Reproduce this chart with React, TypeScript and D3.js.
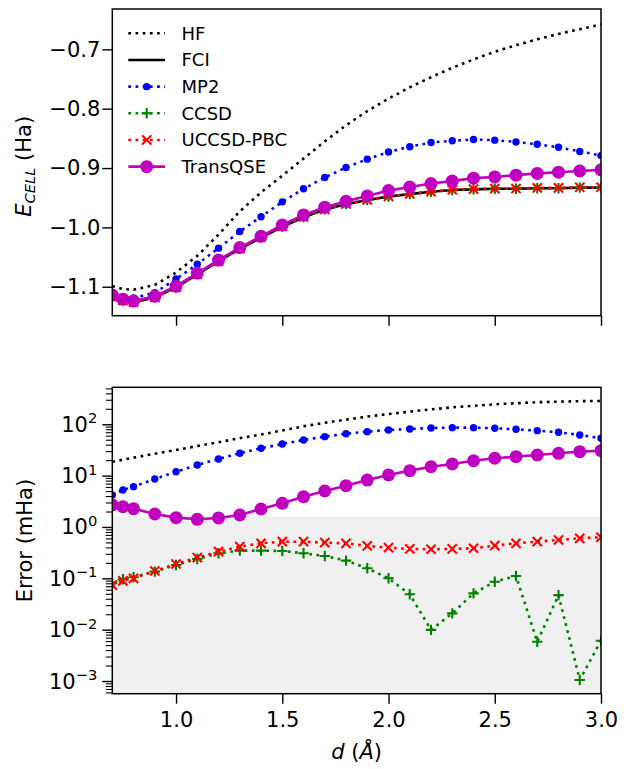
import * as d3 from "d3";
import * as React from "react";

// bond distances (Angstrom)
const dist = [0.7, 0.75, 0.8, 0.9, 1.0, 1.1, 1.2, 1.3, 1.4, 1.5, 1.6, 1.7, 1.8, 1.9, 2.0, 2.1, 2.2, 2.3, 2.4, 2.5, 2.6, 2.7, 2.8, 2.9, 3.0];

// top panel: cell energies (Ha)
const hfEnergy = [-1.099, -1.104, -1.105, -1.097, -1.076, -1.048, -1.012, -0.973, -0.941, -0.913, -0.884, -0.855, -0.828, -0.804, -0.783, -0.764, -0.747, -0.731, -0.717, -0.704, -0.693, -0.683, -0.674, -0.666, -0.658];
const fciEnergy = [-1.117, -1.123, -1.126, -1.118, -1.101, -1.079, -1.057, -1.036, -1.017, -0.999, -0.983, -0.97, -0.961, -0.954, -0.948, -0.944, -0.94, -0.937, -0.936, -0.935, -0.935, -0.934, -0.934, -0.933, -0.933];
const mp2Energy = [-1.113, -1.118, -1.119, -1.11, -1.087, -1.062, -1.035, -1.007, -0.982, -0.957, -0.935, -0.916, -0.899, -0.885, -0.873, -0.864, -0.857, -0.854, -0.852, -0.853, -0.856, -0.86, -0.865, -0.872, -0.879];
const ccsdEnergy = [-1.1169, -1.1229, -1.1259, -1.1179, -1.1008, -1.0788, -1.0567, -1.0357, -1.0167, -0.9987, -0.9827, -0.9697, -0.9608, -0.9538, -0.9479, -0.944, -0.94, -0.937, -0.936, -0.9349, -0.9349, -0.934, -0.934, -0.933, -0.933];
const uccsdEnergy = [-1.1169, -1.1229, -1.1259, -1.1179, -1.1008, -1.0787, -1.0567, -1.0356, -1.0165, -0.9985, -0.9825, -0.9695, -0.9605, -0.9536, -0.9476, -0.9436, -0.9396, -0.9366, -0.9356, -0.9346, -0.9345, -0.9335, -0.9334, -0.9324, -0.9324];
const transqseEnergy = [-1.114, -1.121, -1.124, -1.116, -1.099, -1.077, -1.055, -1.034, -1.015, -0.996, -0.979, -0.966, -0.956, -0.947, -0.938, -0.932, -0.926, -0.922, -0.917, -0.915, -0.912, -0.909, -0.907, -0.905, -0.903];

// bottom panel: errors vs FCI (mHa)
const hfError = [18.6, 20.4, 22.4, 26.6, 31.6, 37.6, 44.7, 53.7, 63.1, 75.9, 91.2, 107, 123, 141, 158, 176, 195, 214, 229, 245, 257, 269, 275, 282, 285];
const mp2Error = [4.2, 5.25, 6.1, 8.6, 11.9, 16.1, 21.1, 27.2, 34.1, 41.3, 49.5, 57.4, 65.5, 71.8, 77.4, 81, 84.5, 85.9, 85.9, 83.4, 79.8, 75.1, 69.8, 61.9, 53.3];
const ccsdError = [0.08, 0.096, 0.105, 0.135, 0.182, 0.238, 0.307, 0.346, 0.346, 0.341, 0.307, 0.272, 0.221, 0.157, 0.1, 0.049, 0.0099, 0.0208, 0.051, 0.086, 0.111, 0.0058, 0.047, 0.00105, 0.0061];
const uccsdError = [0.074, 0.089, 0.1, 0.139, 0.19, 0.252, 0.33, 0.413, 0.481, 0.517, 0.517, 0.495, 0.481, 0.427, 0.395, 0.373, 0.368, 0.373, 0.385, 0.432, 0.481, 0.517, 0.558, 0.602, 0.63];
const transqseError = [2.68, 2.48, 2.27, 1.79, 1.52, 1.41, 1.5, 1.71, 2.24, 2.89, 3.89, 5.02, 6.37, 8.2, 10.3, 12.5, 14.9, 16.9, 19.5, 21.8, 23.4, 25.2, 27.2, 29.3, 30.6];

const xTicks = [1.0, 1.5, 2.0, 2.5, 3.0];
const energyTicks = [-1.1, -1.0, -0.9, -0.8, -0.7];
const errorExponents = [-3, -2, -1, 0, 1, 2];
const chemicalAccuracy = 1.6; // mHa, shaded below

const width = 630;
const height = 769;
const font = "DejaVu Sans, sans-serif";
const fs = 21; // ticks and axis labels
const legendFs = 18;
const lw = 2.6;
const dotted = "2.7 4.5";

type Style = { color: string; dash: string | null; marker: string | null };
const styles: Record<string, Style> = {
  HF: { color: "#000000", dash: dotted, marker: null },
  FCI: { color: "#000000", dash: null, marker: null },
  MP2: { color: "#0000ff", dash: dotted, marker: "o" },
  CCSD: { color: "#008000", dash: dotted, marker: "+" },
  "UCCSD-PBC": { color: "#ff0000", dash: dotted, marker: "x" },
  TransQSE: { color: "#bf00bf", dash: null, marker: "O" },
};

function drawMarkers(g, kind, pts, color) {
  if (kind === "o" || kind === "O") {
    g.selectAll(null)
      .data(pts)
      .join("circle")
      .attr("cx", (d) => d[0])
      .attr("cy", (d) => d[1])
      .attr("r", kind === "o" ? 3.7 : 6.5)
      .attr("fill", color);
  } else if (kind === "+") {
    g.selectAll(null)
      .data(pts)
      .join("path")
      .attr("d", (d) => `M${d[0] - 5.2},${d[1]}H${d[0] + 5.2}M${d[0]},${d[1] - 5.2}V${d[1] + 5.2}`)
      .attr("stroke", color)
      .attr("stroke-width", 2.1)
      .attr("fill", "none");
  } else if (kind === "x") {
    g.selectAll(null)
      .data(pts)
      .join("path")
      .attr("d", (d) => `M${d[0] - 4.6},${d[1] - 4.6}L${d[0] + 4.6},${d[1] + 4.6}M${d[0] - 4.6},${d[1] + 4.6}L${d[0] + 4.6},${d[1] - 4.6}`)
      .attr("stroke", color)
      .attr("stroke-width", 2.1)
      .attr("fill", "none");
  }
}

function drawSeries(g, xs, ys, x, y, st: Style) {
  const pts = xs.map((d, i) => [x(d), y(ys[i])]);
  const line = d3.line();
  g.append("path")
    .attr("d", line(pts))
    .attr("fill", "none")
    .attr("stroke", st.color)
    .attr("stroke-width", lw)
    .attr("stroke-dasharray", st.dash)
    .attr("stroke-linejoin", "round");
  if (st.marker) drawMarkers(g.append("g"), st.marker, pts, st.color);
}

class App extends React.Component {
  myRef: any;
  constructor(props) {
    super(props);
    this.myRef = React.createRef();
  }

  componentDidMount() {
    const left = 112.3;
    const right = 601;
    const top1 = 9;
    const bottom1 = 315.7;
    const top2 = 387.3;
    const bottom2 = 693.7;

    const x = d3.scaleLinear().domain([0.7, 3.0]).range([left, right]);
    const yE = d3.scaleLinear().domain([-1.1488, -0.632]).range([bottom1, top1]);
    const yErr = d3.scaleLog().domain([Math.pow(10, -3.247), Math.pow(10, 2.72)]).range([bottom2, top2]);

    const svg = d3.select(this.myRef.current).attr("viewBox", [0, 0, width, height]);
    svg.selectAll("*").remove();
    svg.append("rect").attr("width", width).attr("height", height).attr("fill", "#ffffff");

    const defs = svg.append("defs");
    defs.append("clipPath").attr("id", "clip-top").append("rect")
      .attr("x", left).attr("y", top1).attr("width", right - left).attr("height", bottom1 - top1);
    defs.append("clipPath").attr("id", "clip-bot").append("rect")
      .attr("x", left).attr("y", top2).attr("width", right - left).attr("height", bottom2 - top2);

    // ---- top panel ----
    const gTop = svg.append("g").attr("clip-path", "url(#clip-top)");
    const topSeries: [string, number[]][] = [
      ["HF", hfEnergy],
      ["FCI", fciEnergy],
      ["MP2", mp2Energy],
      ["CCSD", ccsdEnergy],
      ["UCCSD-PBC", uccsdEnergy],
      ["TransQSE", transqseEnergy],
    ];
    topSeries.forEach(([name, vals]) => drawSeries(gTop, dist, vals, x, yE, styles[name]));

    // ---- bottom panel ----
    const gBot = svg.append("g").attr("clip-path", "url(#clip-bot)");
    gBot.append("rect")
      .attr("x", left)
      .attr("width", right - left)
      .attr("y", yErr(chemicalAccuracy))
      .attr("height", bottom2 - yErr(chemicalAccuracy))
      .attr("fill", "#f0f0f0");
    const botSeries: [string, number[]][] = [
      ["HF", hfError],
      ["MP2", mp2Error],
      ["CCSD", ccsdError],
      ["UCCSD-PBC", uccsdError],
      ["TransQSE", transqseError],
    ];
    botSeries.forEach(([name, vals]) => drawSeries(gBot, dist, vals, x, yErr, styles[name]));

    // ---- axes ----
    const styleAxis = (g) => {
      g.attr("font-size", null).attr("font-family", null);
      g.select(".domain").remove();
      g.selectAll(".tick line").attr("stroke", "#000").attr("stroke-width", 1.4);
      g.selectAll(".tick text").attr("fill", "#000").attr("font-family", font).attr("font-size", fs);
    };

    svg.append("g")
      .attr("transform", `translate(${left},0)`)
      .call(d3.axisLeft(yE).tickValues(energyTicks).tickSize(10).tickPadding(2).tickFormat(d3.format(".1f")))
      .call(styleAxis);

    svg.append("g")
      .attr("transform", `translate(0,${bottom1})`)
      .call(d3.axisBottom(x).tickValues(xTicks).tickSize(10).tickFormat(() => ""))
      .call(styleAxis);

    svg.append("g")
      .attr("transform", `translate(0,${bottom2})`)
      .call(d3.axisBottom(x).tickValues(xTicks).tickSize(10).tickPadding(8).tickFormat(d3.format(".1f")))
      .call(styleAxis);

    // log axis: major and minor ticks
    const [lo, hi] = yErr.domain();
    const minor: number[] = [];
    for (let k = -4; k <= 2; k++) {
      for (let m = 2; m <= 9; m++) {
        const v = m * Math.pow(10, k);
        if (v >= lo && v <= hi) minor.push(v);
      }
    }
    svg.append("g")
      .attr("transform", `translate(${left},0)`)
      .call(d3.axisLeft(yErr).tickValues(minor).tickSize(6.5).tickFormat(() => ""))
      .call(styleAxis)
      .selectAll(".tick line").attr("stroke-width", 1.1);

    const gMajor = svg.append("g")
      .attr("transform", `translate(${left},0)`)
      .call(d3.axisLeft(yErr).tickValues(errorExponents.map((e) => Math.pow(10, e))).tickSize(10).tickFormat(() => ""))
      .call(styleAxis);
    gMajor.selectAll(".tick text").remove();
    errorExponents.forEach((e) => {
      const t = svg.append("text")
        .attr("x", left - 15)
        .attr("y", yErr(Math.pow(10, e)) + 7.5)
        .attr("text-anchor", "end")
        .attr("font-family", font)
        .attr("font-size", fs)
        .attr("fill", "#000");
      t.append("tspan").text("10");
      t.append("tspan")
        .attr("font-size", fs * 0.7)
        .attr("dy", -8.5)
        .text(e < 0 ? `\u2212${-e}` : `${e}`);
    });

    // spines
    [[top1, bottom1], [top2, bottom2]].forEach(([t, b]) => {
      svg.append("rect")
        .attr("x", left)
        .attr("y", t)
        .attr("width", right - left)
        .attr("height", b - t)
        .attr("fill", "none")
        .attr("stroke", "#000")
        .attr("stroke-width", 1.5);
    });

    // axis labels
    const yl1 = svg.append("text")
      .attr("transform", `translate(31,${(top1 + bottom1) / 2 + 4}) rotate(-90)`)
      .attr("text-anchor", "middle")
      .attr("font-family", font)
      .attr("font-size", fs)
      .attr("fill", "#000");
    yl1.append("tspan").attr("font-style", "italic").text("E");
    yl1.append("tspan").attr("font-style", "italic").attr("font-size", fs * 0.7).attr("dy", 4).text("CELL");
    yl1.append("tspan").attr("dy", -4).text("\u00a0(Ha)");

    svg.append("text")
      .attr("transform", `translate(32,${(top2 + bottom2) / 2}) rotate(-90)`)
      .attr("text-anchor", "middle")
      .attr("font-family", font)
      .attr("font-size", fs)
      .attr("fill", "#000")
      .text("Error (mHa)");

    const xl = svg.append("text")
      .attr("x", (left + right) / 2)
      .attr("y", 759)
      .attr("text-anchor", "middle")
      .attr("font-family", font)
      .attr("font-size", fs)
      .attr("fill", "#000");
    xl.append("tspan").attr("font-style", "italic").text("d");
    xl.append("tspan").text(" (");
    xl.append("tspan").attr("font-style", "italic").text("\u00c5");
    xl.append("tspan").text(")");

    // legend
    const legend = svg.append("g");
    topSeries.forEach(([name], i) => {
      const st = styles[name];
      const cy = 33.3 + i * 26.67;
      const row = legend.append("g");
      row.append("path")
        .attr("d", `M128.3,${cy}H165`)
        .attr("stroke", st.color)
        .attr("stroke-width", lw)
        .attr("stroke-dasharray", st.dash)
        .attr("fill", "none");
      if (st.marker) drawMarkers(row, st.marker, [[146.7, cy]], st.color);
      row.append("text")
        .attr("x", 181.5)
        .attr("y", cy + 6.5)
        .attr("font-family", font)
        .attr("font-size", legendFs)
        .attr("fill", "#000")
        .text(name);
    });
  }

  render() {
    return (
      <svg
        ref={this.myRef}
        width={width}
        height={height}
        style={{ position: "absolute", left: 0, top: 0, display: "block" }}
      ></svg>
    );
  }
}

export default App;
